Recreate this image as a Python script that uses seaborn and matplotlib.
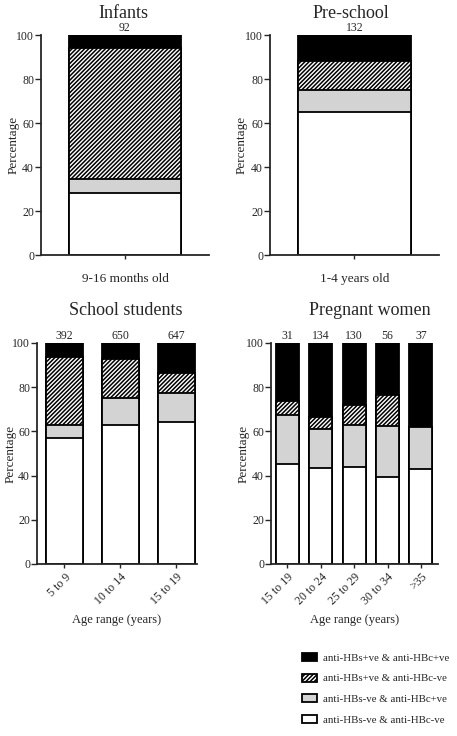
import pandas as pd
import matplotlib.pyplot as plt
import seaborn as sns
from matplotlib.patches import Patch

# ── Data (percent of each group, stacked bottom -> top) ──────────────────────
legend_labels = ["anti-HBs+ve & anti-HBc+ve", "anti-HBs+ve & anti-HBc-ve",
                 "anti-HBs-ve & anti-HBc+ve", "anti-HBs-ve & anti-HBc-ve"]

infant_groups = ["9-16 months old"]
infant_negneg = [28.0]
infant_negpos = [6.4]
infant_posneg = [59.8]
infant_pospos = [5.8]
infant_n = [92]

preschool_groups = ["1-4 years old"]
preschool_negneg = [65.0]
preschool_negpos = [10.0]
preschool_posneg = [13.2]
preschool_pospos = [11.8]
preschool_n = [132]

school_groups = ["5 to 9", "10 to 14", "15 to 19"]
school_negneg = [56.8, 62.7, 64.1]
school_negpos = [5.9, 12.4, 13.4]
school_posneg = [31.1, 17.5, 8.7]
school_pospos = [6.2, 7.4, 13.8]
school_n = [392, 650, 647]

pregnant_groups = ["15 to 19", "20 to 24", "25 to 29", "30 to 34", ">35"]
pregnant_negneg = [45.2, 43.3, 43.9, 39.4, 43.1]
pregnant_negpos = [22.4, 17.8, 19.0, 23.2, 18.9]
pregnant_posneg = [6.3, 5.2, 9.0, 14.0, 0.0]
pregnant_pospos = [26.1, 33.7, 28.1, 23.4, 38.0]
pregnant_n = [31, 134, 130, 56, 37]

sns.set_style("ticks")
plt.rcParams["font.family"] = ["Liberation Serif", "DejaVu Serif"]
plt.rcParams["hatch.linewidth"] = 1.1
plt.rcParams["axes.linewidth"] = 1.3

# layer styles, top layer first (drawn first, then covered by lower layers)
layers = [
    dict(color="black", hatch=None),
    dict(color="white", hatch="////////"),
    dict(color="#d3d3d3", hatch=None),
    dict(color="white", hatch=None),
]


def stacked(ax, groups, negneg, negpos, posneg, pospos, counts, title, title_x,
            title_pad, xlabel=None, rotate=False, width=0.67):
    df = pd.DataFrame({"group": groups, "negneg": negneg, "negpos": negpos,
                       "posneg": posneg, "pospos": pospos})
    df["c1"] = df["negneg"]
    df["c2"] = df["c1"] + df["negpos"]
    df["c3"] = df["c2"] + df["posneg"]
    df["c4"] = df["c3"] + df["pospos"]
    for col, st in zip(["c4", "c3", "c2", "c1"], layers):
        kw = {"hatch": st["hatch"]} if st["hatch"] else {}
        sns.barplot(data=df, x="group", y=col, color=st["color"], saturation=1,
                    edgecolor="black", linewidth=1.3, width=width,
                    errorbar=None, ax=ax, **kw)
    for i, n in enumerate(counts):
        ax.annotate(str(n), (i, df["c4"].iloc[i]), xytext=(0, 0.5),
                    textcoords="offset points", ha="center", va="bottom",
                    fontsize=8.5)
    ax.set_ylim(0, 100)
    ax.set_yticks(range(0, 101, 20))
    ax.set_ylabel("Percentage", fontsize=9.5)
    ax.yaxis.set_label_coords(-0.13, 0.5)
    ax.tick_params(axis="y", labelsize=8.5, length=4, width=1, pad=1)
    sns.despine(ax=ax)
    ax.set_title(title, fontsize=13, x=title_x, pad=title_pad)
    if rotate:
        ax.tick_params(axis="x", labelsize=8.5, length=3, width=1, pad=2)
        for lab in ax.get_xticklabels():
            lab.set_rotation(45)
            lab.set_ha("right")
            lab.set_rotation_mode("anchor")
    else:
        ax.tick_params(axis="x", labelsize=9.5, length=3, width=1, pad=10)
    ax.set_xlabel(xlabel if xlabel else "", fontsize=9, labelpad=5)
    return ax


fig = plt.figure(figsize=(4.57, 7.36), dpi=100)
ax1 = fig.add_axes([0.0897, 0.6535, 0.3676, 0.2989])
ax2 = fig.add_axes([0.5908, 0.6535, 0.3698, 0.2989])
ax3 = fig.add_axes([0.081, 0.2337, 0.350, 0.3003])
ax4 = fig.add_axes([0.593, 0.2337, 0.3654, 0.3003])

stacked(ax1, infant_groups, infant_negneg, infant_negpos, infant_posneg,
        infant_pospos, infant_n, "Infants", 0.49, 12)
ax1.set_xlim(-0.5, 0.5)
stacked(ax2, preschool_groups, preschool_negneg, preschool_negpos,
        preschool_posneg, preschool_pospos, preschool_n, "Pre-school", 0.477, 12)
ax2.set_xlim(-0.5, 0.5)
stacked(ax3, school_groups, school_negneg, school_negpos, school_posneg,
        school_pospos, school_n, "School students", 0.556, 20,
        xlabel="Age range (years)", rotate=True, width=0.66)
ax3.set_xlim(-0.49, 2.37)
stacked(ax4, pregnant_groups, pregnant_negneg, pregnant_negpos,
        pregnant_posneg, pregnant_pospos, pregnant_n, "Pregnant women", 0.59, 20,
        xlabel="Age range (years)", rotate=True, width=0.69)
ax4.set_xlim(-0.49, 4.51)

handles = [Patch(facecolor=st["color"], edgecolor="black", linewidth=1.3,
                 hatch=st["hatch"]) for st in layers]
fig.legend(handles, legend_labels, loc="upper left",
           bbox_to_anchor=(0.66, 0.1126), frameon=False, fontsize=7.8,
           handlelength=1.4, handleheight=0.75, handletextpad=0.55,
           labelspacing=1.0, borderpad=0, borderaxespad=0)

fig.savefig("out.png", dpi=100)
